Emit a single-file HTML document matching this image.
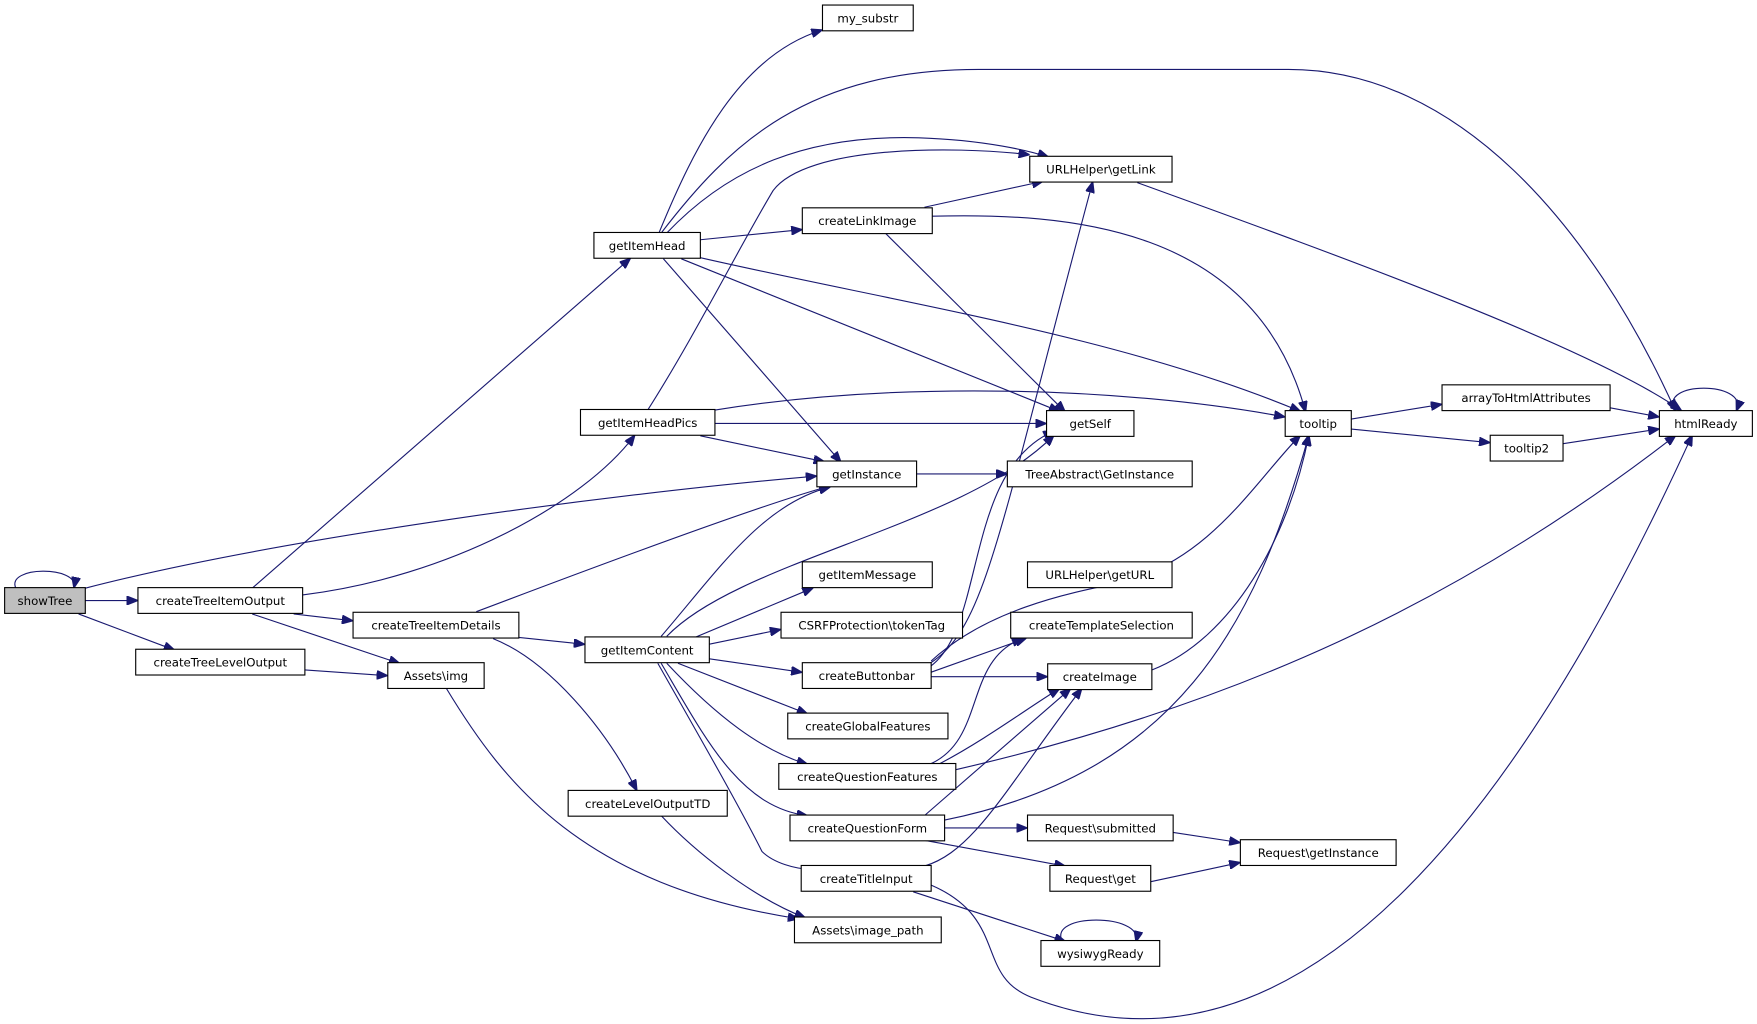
<!DOCTYPE html>
<html><head><meta charset="utf-8"><style>
html,body{margin:0;padding:0;background:#fff;}
svg{display:block;}
text{font-family:"DejaVu Sans","Liberation Sans",sans-serif;font-size:10.5px;fill:#000;}
.e{fill:none;stroke:#191970;stroke-width:1;}
.b{fill:#fff;stroke:#000;stroke-width:1;}
</style></head><body>
<svg width="1757" height="1024" viewBox="0 0 1568 914" xmlns="http://www.w3.org/2000/svg">
<defs><marker id="a" markerWidth="10" markerHeight="8" refX="9" refY="4" orient="auto" markerUnits="userSpaceOnUse"><path d="M0,0 L10,4 L0,8 z" fill="#191970" stroke="#191970"/></marker></defs>
<g class="e" marker-end="url(#a)">
<path d="M14,525 C5,505 70,505 66,524"/>
<path d="M76,536 L122,536"/>
<path d="M70,548 L155,580"/>
<path d="M76,525 C250,480 550,440 728,425"/>
<path d="M225,525 L562,231"/>
<path d="M270,531 C400,515 520,450 566,389"/>
<path d="M262,548 L314,554"/>
<path d="M225,548 L356,592"/>
<path d="M272,598 L345,603"/>
<path d="M425,546 C520,510 680,450 740,434"/>
<path d="M463,569 L521,575"/>
<path d="M440,570 C490,590 540,650 568,705"/>
<path d="M398,614 C450,700 520,790 712,820"/>
<path d="M590,728 C620,760 670,800 718,819"/>
<path d="M588,208 C620,130 660,50 733,27"/>
<path d="M590,208 C650,130 720,60 880,62 L1150,62 C1300,62 1420,200 1495,366"/>
<path d="M595,208 C650,150 720,120 820,123 C880,125 920,135 935,140"/>
<path d="M578,366 C620,300 660,220 690,170 C720,130 850,130 918,138"/>
<path d="M625,214 L715,205"/>
<path d="M625,230 C800,270 1000,300 1160,367"/>
<path d="M608,231 L945,367"/>
<path d="M592,231 L750,412"/>
<path d="M825,185 L930,162"/>
<path d="M832,193 C950,190 1120,200 1165,367"/>
<path d="M790,208 L950,367"/>
<path d="M1015,163 C1200,230 1420,310 1500,366"/>
<path d="M638,366 C800,340 1000,345 1146,372"/>
<path d="M638,378 L933,378"/>
<path d="M625,389 L735,412"/>
<path d="M818,423 L898,423"/>
<path d="M590,568 C640,510 680,450 740,435"/>
<path d="M595,568 C660,500 860,470 940,389"/>
<path d="M620,569 L725,525"/>
<path d="M633,575 L696,562"/>
<path d="M633,588 L715,600"/>
<path d="M605,592 L720,637"/>
<path d="M595,592 C640,640 680,670 720,682"/>
<path d="M590,592 C630,660 660,720 720,728"/>
<path d="M587,592 C620,650 660,720 680,760 C690,770 710,776 725,776"/>
<path d="M830,592 C880,560 890,480 975,163"/>
<path d="M830,595 C880,560 860,420 940,385"/>
<path d="M831,590 C880,545 950,530 1000,520 C1080,500 1120,430 1160,389"/>
<path d="M831,600 L915,570"/>
<path d="M831,604 L934,604"/>
<path d="M830,682 C880,660 860,590 912,570"/>
<path d="M838,682 C880,660 920,630 945,615"/>
<path d="M853,687 C1100,630 1300,540 1495,389"/>
<path d="M825,728 L955,615"/>
<path d="M843,732 C1050,690 1120,560 1168,389"/>
<path d="M843,739 L916,739"/>
<path d="M825,750 L950,773"/>
<path d="M825,773 C870,760 900,700 965,615"/>
<path d="M815,796 L950,840"/>
<path d="M831,790 C900,820 870,870 920,890 C1100,960 1300,850 1510,389"/>
<path d="M1028,598 C1100,570 1150,480 1168,389"/>
<path d="M1047,743 L1106,752"/>
<path d="M1027,787 L1106,770"/>
<path d="M948,840 C935,815 1020,815 1014,840"/>
<path d="M1206,374 L1286,361"/>
<path d="M1206,383 L1329,395"/>
<path d="M1437,364 L1480,372"/>
<path d="M1395,396 L1480,383"/>
<path d="M1495,366 C1480,340 1560,340 1550,366"/>
</g>
<g>
<rect x="4" y="524.5" width="72" height="23" fill="#bfbfbf" stroke="#000"/><text x="40" y="540" text-anchor="middle">showTree</text>
<rect class="b" x="123" y="524.5" width="147" height="23"/><text x="196.5" y="540" text-anchor="middle">createTreeItemOutput</text>
<rect class="b" x="121" y="579.5" width="151" height="23"/><text x="196.5" y="595" text-anchor="middle">createTreeLevelOutput</text>
<rect class="b" x="315" y="546.5" width="148" height="23"/><text x="389" y="562" text-anchor="middle">createTreeItemDetails</text>
<rect class="b" x="346" y="591.5" width="86" height="23"/><text x="389" y="607" text-anchor="middle">Assets\img</text>
<rect class="b" x="530" y="207.5" width="95" height="23"/><text x="577.5" y="223" text-anchor="middle">getItemHead</text>
<rect class="b" x="518" y="365.5" width="120" height="23"/><text x="578" y="381" text-anchor="middle">getItemHeadPics</text>
<rect class="b" x="522" y="568.5" width="111" height="23"/><text x="577.5" y="584" text-anchor="middle">getItemContent</text>
<rect class="b" x="507" y="705.5" width="142" height="23"/><text x="578" y="721" text-anchor="middle">createLevelOutputTD</text>
<rect class="b" x="734" y="4.5" width="81" height="23"/><text x="774.5" y="20" text-anchor="middle">my_substr</text>
<rect class="b" x="919" y="139.5" width="127" height="23"/><text x="982.5" y="155" text-anchor="middle">URLHelper\getLink</text>
<rect class="b" x="716" y="185.5" width="116" height="23"/><text x="774" y="201" text-anchor="middle">createLinkImage</text>
<rect class="b" x="934" y="366.5" width="78" height="23"/><text x="973" y="382" text-anchor="middle">getSelf</text>
<rect class="b" x="729" y="411.5" width="89" height="23"/><text x="773.5" y="427" text-anchor="middle">getInstance</text>
<rect class="b" x="899" y="411.5" width="165" height="23"/><text x="981.5" y="427" text-anchor="middle">TreeAbstract\GetInstance</text>
<rect class="b" x="716" y="501.5" width="116" height="23"/><text x="774" y="517" text-anchor="middle">getItemMessage</text>
<rect class="b" x="697" y="546.5" width="162" height="23"/><text x="778" y="562" text-anchor="middle">CSRFProtection\tokenTag</text>
<rect class="b" x="716" y="591.5" width="115" height="23"/><text x="773.5" y="607" text-anchor="middle">createButtonbar</text>
<rect class="b" x="703" y="636.5" width="143" height="23"/><text x="774.5" y="652" text-anchor="middle">createGlobalFeatures</text>
<rect class="b" x="695" y="681.5" width="158" height="23"/><text x="774" y="697" text-anchor="middle">createQuestionFeatures</text>
<rect class="b" x="705" y="727.5" width="138" height="23"/><text x="774" y="743" text-anchor="middle">createQuestionForm</text>
<rect class="b" x="715" y="772.5" width="116" height="23"/><text x="773" y="788" text-anchor="middle">createTitleInput</text>
<rect class="b" x="709" y="818.5" width="131" height="23"/><text x="774.5" y="834" text-anchor="middle">Assets\image_path</text>
<rect class="b" x="917" y="501.5" width="129" height="23"/><text x="981.5" y="517" text-anchor="middle">URLHelper\getURL</text>
<rect class="b" x="902" y="546.5" width="162" height="23"/><text x="983" y="562" text-anchor="middle">createTemplateSelection</text>
<rect class="b" x="935" y="592.5" width="93" height="23"/><text x="981.5" y="608" text-anchor="middle">createImage</text>
<rect class="b" x="917" y="727.5" width="130" height="23"/><text x="982" y="743" text-anchor="middle">Request\submitted</text>
<rect class="b" x="937" y="772.5" width="90" height="23"/><text x="982" y="788" text-anchor="middle">Request\get</text>
<rect class="b" x="929" y="839.5" width="106" height="23"/><text x="982" y="855" text-anchor="middle">wysiwygReady</text>
<rect class="b" x="1107" y="749.5" width="139" height="23"/><text x="1176.5" y="765" text-anchor="middle">Request\getInstance</text>
<rect class="b" x="1147" y="366.5" width="59" height="23"/><text x="1176.5" y="382" text-anchor="middle">tooltip</text>
<rect class="b" x="1287" y="343.5" width="150" height="23"/><text x="1362" y="359" text-anchor="middle">arrayToHtmlAttributes</text>
<rect class="b" x="1330" y="388.5" width="65" height="23"/><text x="1362.5" y="404" text-anchor="middle">tooltip2</text>
<rect class="b" x="1481" y="366.5" width="83" height="23"/><text x="1522.5" y="382" text-anchor="middle">htmlReady</text>
</g>
</svg>
</body></html>
